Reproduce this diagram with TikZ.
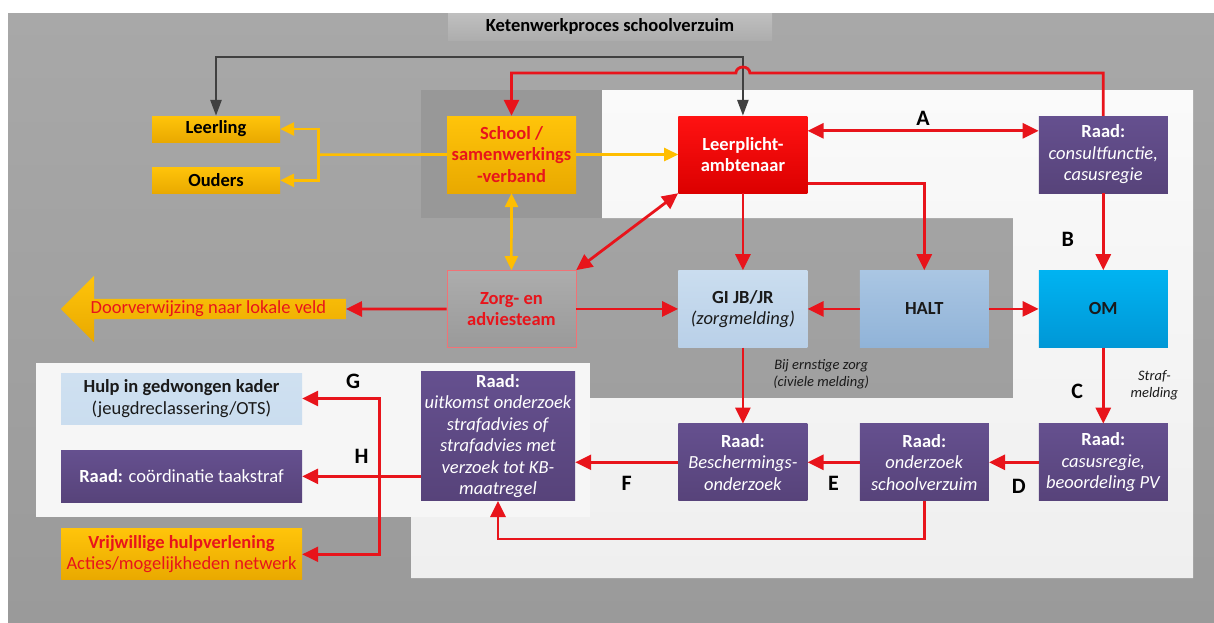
\documentclass[tikz,border=0pt]{standalone}
\usepackage{fontspec}
\setmainfont{Carlito}
\usetikzlibrary{arrows.meta, positioning, calc, shapes.arrows}
\usepackage{xcolor}

\definecolor{bgtop}{HTML}{A8A8A8}
\definecolor{bgbot}{HTML}{9A9A9A}
\definecolor{paneltop}{HTML}{FAFAFA}
\definecolor{panelbot}{HTML}{EFEFEF}
\definecolor{schoolpanel}{HTML}{989898}
\definecolor{pijlrood}{HTML}{E8141B}
\definecolor{geeltop}{HTML}{FFC40A}
\definecolor{geelbot}{HTML}{E9A900}
\definecolor{geelpijl}{HTML}{FFBE00}
\definecolor{lptop}{HTML}{FF1212}
\definecolor{lpbot}{HTML}{DC0000}
\definecolor{raadtop}{HTML}{65508F}
\definecolor{raadbot}{HTML}{57437A}
\definecolor{gitop}{HTML}{CADDEF}
\definecolor{gibot}{HTML}{B9D0E8}
\definecolor{halttop}{HTML}{AAC6E3}
\definecolor{haltbot}{HTML}{90B3D8}
\definecolor{omtop}{HTML}{00B3F1}
\definecolor{ombot}{HTML}{0097D6}
\definecolor{zwart}{HTML}{404040}
\definecolor{tekst}{HTML}{1A1A1A}

\begin{document}
\begin{tikzpicture}[
    x=1pt, y=-1pt,
    box/.style={rectangle, minimum width=129pt, minimum height=77pt, inner sep=2pt, align=center, font=\fontsize{18.5}{21.5}\selectfont},
    yellowbox/.style={box, top color=geeltop, bottom color=geelbot, text=black},
    redbox/.style={box, top color=lptop, bottom color=lpbot, text=white},
    raadbox/.style={box, top color=raadtop, bottom color=raadbot, text=white},
    bluebox/.style={box, top color=gitop, bottom color=gibot, text=tekst},
    haltbox/.style={box, top color=halttop, bottom color=haltbot, text=tekst},
    ombox/.style={box, top color=omtop, bottom color=ombot, text=tekst},
    zorgbox/.style={box, top color=bgtop!95!white, bottom color=bgbot, draw=pijlrood!60, line width=0.6pt, text=pijlrood},
    titlebox/.style={rectangle, minimum width=324pt, minimum height=27pt, inner sep=0pt, top color=black!25, bottom color=black!32, font=\fontsize{18.5}{21.5}\selectfont\bfseries},
    bigarrow/.style={single arrow, shape border rotate=180, single arrow head extend=23pt, minimum height=285pt, inner ysep=2pt, inner xsep=4pt, top color=geeltop, bottom color=geelbot, text=pijlrood, font=\fontsize{18.5}{21.5}\selectfont},
    letter/.style={inner sep=0pt, font=\fontsize{22}{24}\selectfont\bfseries},
    note/.style={inner sep=0pt, align=center, text=tekst, font=\fontsize{14.5}{17}\selectfont\itshape},
    redarrow/.style={draw=pijlrood, line width=2.8pt, ->, >={Triangle[length=16pt, width=15pt]}},
    yellowarrow/.style={draw=geelpijl, line width=2.6pt, ->, >={Triangle[length=14pt, width=13pt]}},
    blackarrow/.style={draw=zwart, line width=2.6pt, ->, >={Triangle[length=16pt, width=11pt]}}
]
\useasboundingbox (0,0) rectangle (1214,622);

% panels
\fill[white] (0,0) rectangle (1214,622);
\shade[top color=bgtop, bottom color=bgbot] (8,13) rectangle (1214,622);
\fill[schoolpanel] (421,90) rectangle (602,218);
\shade[top color=paneltop, bottom color=panelbot] (602,90) -- (1193,90) -- (1193,578) -- (411,578) -- (411,398) -- (1013,398) -- (1013,218) -- (602,218) -- cycle;
\fill[paneltop!60!panelbot] (36,363) rectangle (590,517);
\node[titlebox] (title) at (610,26.5) {Ketenwerkproces schoolverzuim};

% nodes
\node[yellowbox, minimum width=128pt, minimum height=26pt, font=\fontsize{18.5}{21.5}\selectfont\bfseries] (leer) at (216,129) {Leerling};
\node[yellowbox, minimum width=128pt, minimum height=26pt, font=\fontsize{18.5}{21.5}\selectfont\bfseries, below=25pt of leer] (ouders) {Ouders};
\node[yellowbox, text=pijlrood, font=\fontsize{18.5}{21.5}\selectfont\bfseries] (school) at (511.5,154.5) {School /\\samenwerkings\\-verband};
\node[redbox, font=\fontsize{18.5}{21.5}\selectfont\bfseries, right=102pt of school] (lpa) {Leerplicht-\\ambtenaar};
\node[raadbox, right=231pt of lpa] (consult) {\textbf{Raad:}\\\textit{consultfunctie,}\\\textit{casusregie}};
\node[bluebox, below=77pt of lpa] (gi) {\textbf{GI JB/JR}\\\textit{(zorgmelding)}};
\node[haltbox, right=52pt of gi] (halt) {\textbf{HALT}};
\node[ombox, below=77pt of consult] (om) {\textbf{OM}};
\node[zorgbox, font=\fontsize{18.5}{21.5}\selectfont\bfseries, left=102pt of gi] (zat) {Zorg- en\\adviesteam};
\node[bigarrow, anchor=tail] (doorv) at (346,309) {Doorverwijzing naar lokale veld};
\node[raadbox, below=76pt of gi] (bescherm) {\textbf{Raad:}\\\textit{Beschermings-}\\\textit{onderzoek}};
\node[raadbox, right=52pt of bescherm] (onderzoek) {\textbf{Raad:}\\\textit{onderzoek}\\\textit{schoolverzuim}};
\node[raadbox, below=76pt of om] (casus) {\textbf{Raad:}\\\textit{casusregie,}\\\textit{beoordeling PV}};
\node[raadbox, minimum width=154pt, minimum height=129pt, anchor=south east] (uitkomst) at ($(bescherm.south west)+(-103,0)$) {\textbf{Raad:}\\\textit{uitkomst onderzoek}\\\textit{strafadvies of}\\\textit{strafadvies met}\\\textit{verzoek tot KB-}\\\textit{maatregel}};
\node[bluebox, top color=gitop!90!white, bottom color=gitop, minimum width=241pt, minimum height=51pt] (hulp) at (181.5,398.5) {\textbf{Hulp in gedwongen kader}\\(jeugdreclassering/OTS)};
\node[raadbox, minimum width=241pt, minimum height=52pt, below=26pt of hulp] (coord) {\textbf{Raad:} co\"ordinatie taakstraf};
\node[yellowbox, text=pijlrood, minimum width=241pt, minimum height=51pt, below=26pt of coord] (vrij) {\textbf{Vrijwillige hulpverlening}\\Acties/mogelijkheden netwerk};

% connectors
\coordinate (zwartlijn) at (0,57);
\coordinate (roodlijn) at (0,73);
\draw[blackarrow, <->] (leer.north) |- (zwartlijn -| lpa.north) -- (lpa.north);
\draw[redarrow] (consult.north) -- (consult.north |- roodlijn) -- ($(lpa.north |- roodlijn)+(7,0)$) arc[start angle=0, end angle=180, x radius=7pt, y radius=6pt] -- (school.north |- roodlijn) -- (school.north);

\coordinate (ysplit) at ($(leer.east)!0.5!(ouders.east)+(38,0)$);
\draw[yellowarrow, -] (school.west) -- (ysplit);
\draw[yellowarrow] (ysplit) |- (leer.east);
\draw[yellowarrow] (ysplit) |- (ouders.east);
\draw[yellowarrow] (school.east) -- (lpa.west);
\draw[yellowarrow, <->] (school.south) -- (zat.north);

\draw[redarrow, <->] ($(lpa.north east)+(0,15)$) -- node[letter, above=4pt] {A} ($(consult.north west)+(0,15)$);
\draw[redarrow] (lpa) -- (gi);
\draw[redarrow] ($(lpa.south east)+(0,-10)$) -| (halt.north);
\draw[redarrow, <->] (zat.north east) -- (lpa.south west);
\draw[redarrow] (consult) -- node[letter, pos=0.6, left=28pt] {B} (om);
\draw[redarrow] (halt) -- (gi);
\draw[redarrow] (halt) -- (om);
\draw[redarrow] (zat) -- (gi);
\draw[redarrow] (zat.west) -- (doorv.tail);
\draw[redarrow] (gi) -- node[note, pos=0.35, right=29pt] {Bij ernstige zorg\\(civiele melding)} (bescherm);
\draw[redarrow] (om) -- node[letter, pos=0.58, left=19pt] {C} node[note, pos=0.5, right=26pt] {Straf-\\melding} (casus);
\draw[redarrow] (casus) -- node[letter, pos=0.4, below=16pt] {D} (onderzoek);
\draw[redarrow] (onderzoek) -- node[letter, below=13pt] {E} (bescherm);
\draw[redarrow] (bescherm.west) -- node[letter, below=13pt] {F} (bescherm.west -| uitkomst.east);
\draw[redarrow] (onderzoek.south) -- ++(0,38) -| (uitkomst.south);
\draw[redarrow] (uitkomst.west |- coord.east) -- node[letter, above=12pt] {H} (coord.east);
\coordinate (gh) at ($(coord.east)+(77,0)$);
\draw[redarrow] (gh) |- node[letter, pos=0.67, above=8pt] {G} (hulp.east);
\draw[redarrow] (gh) |- (vrij.east);

\end{tikzpicture}
\end{document}
